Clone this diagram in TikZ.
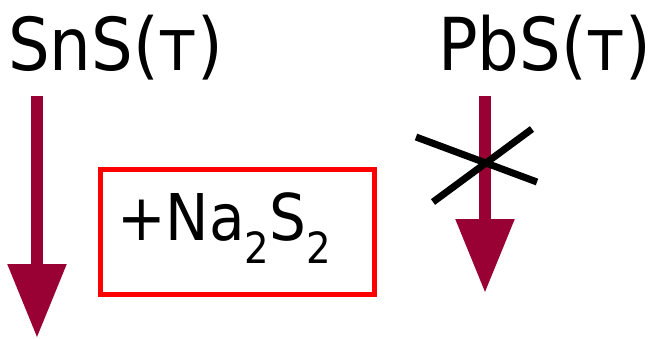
\documentclass[tikz,border=0pt]{standalone}
\usepackage{fontspec}
\setmainfont{DejaVu Sans Condensed}
\usetikzlibrary{arrows.meta}
\definecolor{cwine}{RGB}{153,0,51}
\definecolor{cred}{RGB}{255,0,0}
\newcommand{\chemsub}[1]{\raisebox{-23pt}{\fontsize{43}{43}\selectfont #1}}
\tikzset{
  salt/.style={anchor=base west,inner sep=0pt,font=\fontsize{73}{73}\selectfont},
  fatarrow/.style={cwine,line width=12pt,-{Triangle[width=56pt,length=74pt]}},
  reagent/.style={draw=cred,line width=5pt,minimum width=274pt,minimum height=125pt,inner sep=0pt},
  veto/.style={black,line width=7pt}
}

\begin{document}
\begin{tikzpicture}[x=1pt,y=-1pt]
    \useasboundingbox (0,0) rectangle (654,338);
    \node[salt] (sns) at (8,70) {SnS(т)};
    \node[salt] (pbs) at (438,70) {PbS(т)};
    \coordinate (snsA) at (37,96);
    \coordinate (snsB) at (37,338);
    \coordinate (pbsA) at (485,96);
    \coordinate (pbsB) at (485,293);
    \draw[fatarrow] (snsA) -- (snsB);
    \draw[fatarrow] (pbsA) -- (pbsB);
    % crossed-out reaction
    \coordinate (x1) at (416,137);
    \coordinate (x2) at (537,182);
    \coordinate (x3) at (433,202);
    \coordinate (x4) at (532,129);
    \draw[veto] (x1) -- (x2);
    \draw[veto] (x3) -- (x4);
    \node[reagent] (nabox) at (237.5,232) {};
    \node[anchor=base west,inner sep=0pt,font=\fontsize{64.5}{64.5}\selectfont] (naS) at (117,240) {+Na\chemsub{2}S\chemsub{2}};
  \end{tikzpicture}
\end{document}
